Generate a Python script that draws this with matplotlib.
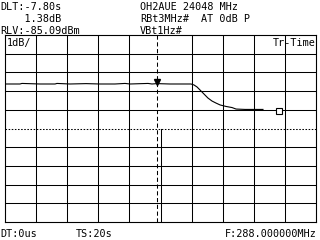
import numpy as np
import matplotlib.pyplot as plt

# sweep time axis (s) and level (dBm)
sweep_time = 20.0
ref_level = -85.09
db_per_div = 1.0

t = [0.00, 0.96, 1.09, 2.25, 3.22, 3.34, 4.18, 5.21, 6.11, 7.07, 7.72, 8.04,
     9.20, 9.45, 9.77, 10.61, 11.58, 11.96, 12.15, 12.35, 12.60, 12.86, 13.05,
     13.31, 13.57, 13.83, 14.21, 14.60, 14.86, 15.43, 16.08, 16.59]
level = [-87.71, -87.71, -87.68, -87.71, -87.71, -87.68, -87.71, -87.69, -87.71,
         -87.71, -87.68, -87.71, -87.68, -87.71, -87.69, -87.71, -87.71, -87.71,
         -87.76, -87.87, -88.08, -88.30, -88.46, -88.62, -88.73, -88.83, -88.91,
         -88.97, -89.05, -89.07, -89.07, -89.07]

marker_t, marker_lvl = 9.77, -87.60
delta_t, delta_lvl = 17.64, -89.14

header_left = ["DLT:-7.80s", "    1.38dB", "RLV:-85.09dBm"]
header_mid = ["OH2AUE 24048 MHz", "RBt3MHz#", "VBt1Hz#"]
footer = ["DT:0us", "TS:20s", "F:288.000000MHz"]

W, H = 320, 240
fig = plt.figure(figsize=(W / 100, H / 100), dpi=100)
fig.patch.set_facecolor('white')
# plot frame in pixels: x 5..316, y 35..222
ax = fig.add_axes([5 / W, 1 - 222 / H, 311 / W, 187 / H])
lo = ref_level - 10 * db_per_div
ax.set_xlim(0, sweep_time)
ax.set_ylim(lo, ref_level)
ax.set_xticks([])
ax.set_yticks([])
for s in ax.spines.values():
    s.set_linewidth(0.8)
    s.set_color('black')

lw = 0.75
for i in range(1, 10):
    x = i * sweep_time / 10
    if i == 5:
        # center line only shows below the middle
        ax.plot([x, x], [lo, lo + 5 * db_per_div], color='black', lw=lw)
    else:
        ax.axvline(x, color='black', lw=lw)
    y = ref_level - i * db_per_div
    if i == 5:
        ax.axhline(y, color='black', lw=lw, ls=(0, (1.5, 1.5)))
    else:
        ax.axhline(y, color='black', lw=lw)

ax.axvline(marker_t, color='black', lw=lw, ls=(0, (4, 2.5)))
ax.plot(t, level, color='black', lw=0.8)
ax.plot(marker_t, marker_lvl, marker='v', color='black', markersize=4, ls='none')
ax.plot(delta_t, delta_lvl, marker='s', mfc='white', mec='black', mew=0.8,
        markersize=4.5, ls='none')

mono = dict(family='DejaVu Sans Mono', fontsize=7.3, color='black')
ax.text(0.006, 0.985, "1dB/", transform=ax.transAxes, va='top', ha='left', **mono)
ax.text(0.998, 0.985, "Tr-Time", transform=ax.transAxes, va='top', ha='right', **mono)

def px(x, y):
    return x / W, 1 - y / H

for k, s in enumerate(header_left):
    fig.text(*px(0, 10 + 12 * k), s, va='baseline', ha='left', **mono)
for k, s in enumerate(header_mid):
    fig.text(*px(140, 10 + 12 * k), s, va='baseline', ha='left', **mono)
fig.text(*px(201, 22), "AT 0dB P", va='baseline', ha='left', **mono)

fig.text(*px(0, 237), footer[0], va='baseline', ha='left', **mono)
fig.text(*px(76, 237), footer[1], va='baseline', ha='left', **mono)
fig.text(*px(317, 237), footer[2], va='baseline', ha='right', **mono)

fig.savefig("out.png", dpi=100)
